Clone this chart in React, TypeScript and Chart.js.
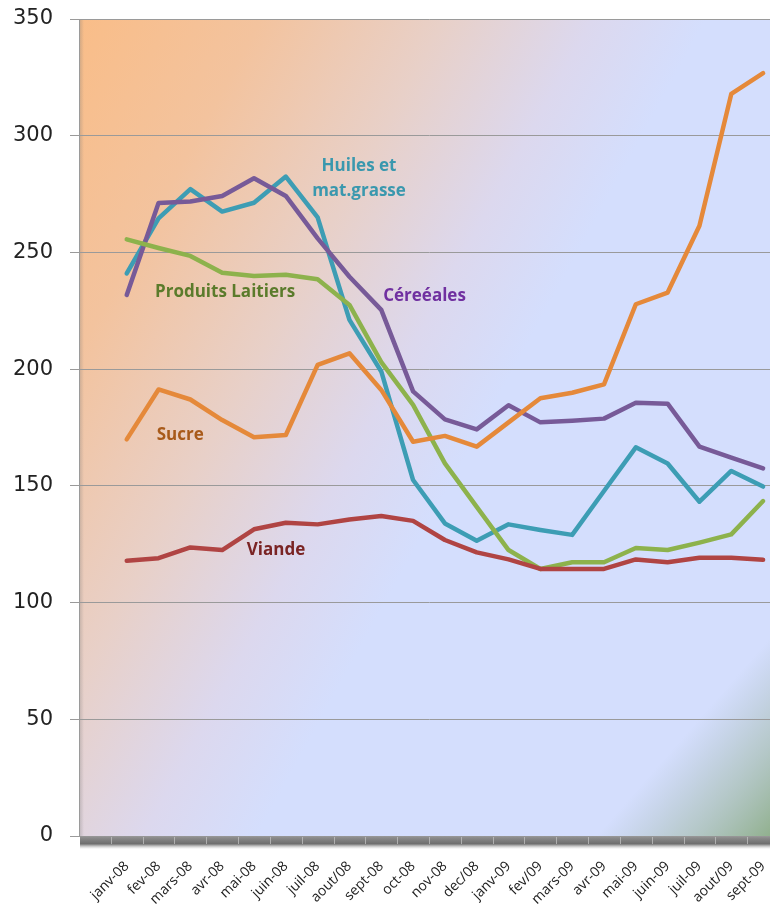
import React, { useEffect, useRef } from 'react';
import { Chart, registerables } from 'chart.js';

Chart.register(...registerables);

const months = ['janv-08', 'fev-08', 'mars-08', 'avr-08', 'mai-08', 'juin-08', 'juil-08', 'aout/08', 'sept-08', 'oct-08', 'nov-08', 'dec/08', 'janv-09', 'fev/09', 'mars-09', 'avr-09', 'mai-09', 'juin-09', 'juil-09', 'aout/09', 'sept-09'];

const cereales = [231.8, 271.2, 271.8, 274.2, 281.8, 274.2, 256, 239.6, 225.4, 190.5, 178.5, 174.2, 184.5, 177.2, 177.9, 178.8, 185.6, 185.2, 166.8, 162.1, 157.5];
const huiles = [241.0, 264.6, 277.1, 267.5, 271.3, 282.5, 265.0, 221.1, 199.0, 152.5, 133.9, 126.5, 133.5, 131.1, 129.0, 147.8, 166.5, 159.6, 143.2, 156.4, 149.7];
const laitiers = [255.6, 251.9, 248.5, 241.3, 239.9, 240.4, 238.5, 227.5, 203.0, 184.7, 159.6, 141.0, 122.5, 114.4, 117.3, 117.3, 123.4, 122.5, 125.7, 129.2, 143.5];
const sucre = [169.9, 191.3, 187.0, 178.2, 170.8, 171.8, 201.8, 206.8, 191.1, 168.9, 171.4, 166.8, 177.2, 187.5, 189.9, 193.5, 227.8, 232.8, 261.4, 317.9, 326.8];
const viande = [117.9, 119.0, 123.6, 122.5, 131.4, 134.2, 133.5, 135.6, 137.1, 135.0, 126.8, 121.5, 118.5, 114.4, 114.4, 114.4, 118.5, 117.3, 119.2, 119.2, 118.3];

const yTicks = [0, 50, 100, 150, 200, 250, 300, 350];

// label text, category position (index in months), value, colour
const labelTexts = ['Huiles et', 'mat.grasse', 'Produits Laitiers', 'Céreéales', 'Sucre', 'Viande'];
const labelIdx = [7.3, 7.3, 3.09, 9.36, 1.68, 4.69];
const labelVal = [287, 276.3, 233.1, 231.4, 171.8, 122.5];
const labelColors = ['#3a98ae', '#3a98ae', '#5b7b2b', '#7030a0', '#a85a1a', '#7a2424'];

const bgPlugin = {
  id: 'bgPlugin',
  beforeDraw(chart: any) {
    const { ctx, chartArea: a } = chart;
    ctx.save();
    const w = a.right - a.left;
    const h = a.bottom - a.top;
    const g = ctx.createLinearGradient(a.left, a.top, a.left + 876, a.top + 482);
    g.addColorStop(0, '#f9bd88');
    g.addColorStop(0.16, '#f3c39e');
    g.addColorStop(0.32, '#e8d0c8');
    g.addColorStop(0.45, '#dcd8ee');
    g.addColorStop(0.55, '#d4defd');
    g.addColorStop(1, '#d4defd');
    ctx.fillStyle = g;
    ctx.fillRect(a.left, a.top, w, h);
    // green corner bottom right
    const ox = a.left - 79;
    const oy = a.top - 19;
    const gg = ctx.createLinearGradient(ox + 755, oy + 655, ox + 852, oy + 740);
    gg.addColorStop(0, 'rgba(170,190,190,0)');
    gg.addColorStop(0.45, 'rgba(170,192,182,0.6)');
    gg.addColorStop(1, 'rgba(146,177,144,1)');
    ctx.fillStyle = gg;
    ctx.fillRect(a.left, a.top, w, h);
    // left wall shadow
    const s = ctx.createLinearGradient(a.left, 0, a.left + 5, 0);
    s.addColorStop(0, 'rgba(120,120,120,0.35)');
    s.addColorStop(1, 'rgba(120,120,120,0)');
    ctx.fillStyle = s;
    ctx.fillRect(a.left, a.top, 5, h);
    ctx.restore();
  },
  afterDraw(chart: any) {
    const { ctx, chartArea: a } = chart;
    const xs = chart.scales.x;
    ctx.save();
    const fy = a.bottom;
    const g = ctx.createLinearGradient(0, fy, 0, fy + 13);
    g.addColorStop(0, '#9a9a9a');
    g.addColorStop(0.15, '#8a8a8a');
    g.addColorStop(0.6, '#6e6e6e');
    g.addColorStop(0.75, 'rgba(110,110,110,0.5)');
    g.addColorStop(1, 'rgba(160,160,160,0)');
    ctx.fillStyle = g;
    ctx.fillRect(a.left + 1, fy, a.right - a.left, 13);
    ctx.strokeStyle = 'rgba(200,200,200,0.7)';
    ctx.lineWidth = 1;
    const n = xs.getLabels().length;
    for (let k = 1; k < n; k++) {
      const px = Math.round(xs.getPixelForValue(k - 0.5)) + 0.5;
      ctx.beginPath();
      ctx.moveTo(px, fy + 1);
      ctx.lineTo(px, fy + 8);
      ctx.stroke();
    }
    ctx.restore();
  },
  afterDatasetsDraw(chart: any) {
    const { ctx } = chart;
    const xs = chart.scales.x;
    const ys = chart.scales.y;
    ctx.save();
    ctx.font = 'bold 17px "Open Sans"';
    ctx.textAlign = 'center';
    ctx.textBaseline = 'middle';
    labelTexts.forEach((t, i) => {
      ctx.fillStyle = labelColors[i];
      ctx.fillText(t, xs.getPixelForValue(labelIdx[i] + 1), ys.getPixelForValue(labelVal[i]));
    });
    ctx.restore();
  },
};

export default function App() {
  const ref = useRef<HTMLCanvasElement>(null);
  useEffect(() => {
    if (!ref.current) return;
    const line = (data: number[], color: string) => ({
      data: [null, ...data],
      borderColor: color,
      backgroundColor: color,
      borderWidth: 4.5,
      pointRadius: 0,
      tension: 0,
      borderJoinStyle: 'round' as const,
      borderCapStyle: 'round' as const,
      fill: false,
    });
    const chart = new Chart(ref.current, {
      type: 'line',
      data: {
        labels: ['', ...months],
        datasets: [
          line(viande, '#b04443'),
          line(sucre, '#e5893a'),
          line(laitiers, '#8db24c'),
          line(cereales, '#775a98'),
          line(huiles, '#3d9db4'),
        ],
      },
      options: {
        animation: false,
        responsive: false,
        devicePixelRatio: 1,
        layout: { padding: { top: 19, right: 11, left: 0, bottom: 0 } },
        plugins: { legend: { display: false }, tooltip: { enabled: false } },
        scales: {
          x: {
            type: 'category',
            offset: true,
            grid: { display: false },
            border: { display: false },
            ticks: {
              autoSkip: false,
              maxRotation: 45,
              minRotation: 45,
              padding: 14,
              color: '#222',
              font: { family: '"Open Sans"', size: 14 },
            },
            afterFit(scale: any) {
              scale.height = 77;
            },
          },
          y: {
            min: 0,
            max: 350,
            afterBuildTicks(scale: any) {
              scale.ticks = yTicks.map((v) => ({ value: v }));
            },
            grid: { color: '#9a9a9a', lineWidth: 1, tickLength: 9 },
            border: { display: true, color: '#9a9a9a', width: 1 },
            ticks: {
              padding: 17,
              color: '#222',
              font: { family: '"DejaVu Sans"', size: 21 },
            },
            afterFit(scale: any) {
              scale.width = 79;
              scale.paddingTop = 0;
              scale.paddingBottom = 0;
            },
          },
        },
      },
      plugins: [bgPlugin],
    } as any);
    return () => chart.destroy();
  }, []);
  return (
    <div style={{ position: 'absolute', left: 0, top: 0, width: 770, height: 913, overflow: 'hidden', background: '#fff' }}>
      <canvas ref={ref} width={790} height={913} style={{ display: 'block', width: 790, height: 913 }} />
    </div>
  );
}
